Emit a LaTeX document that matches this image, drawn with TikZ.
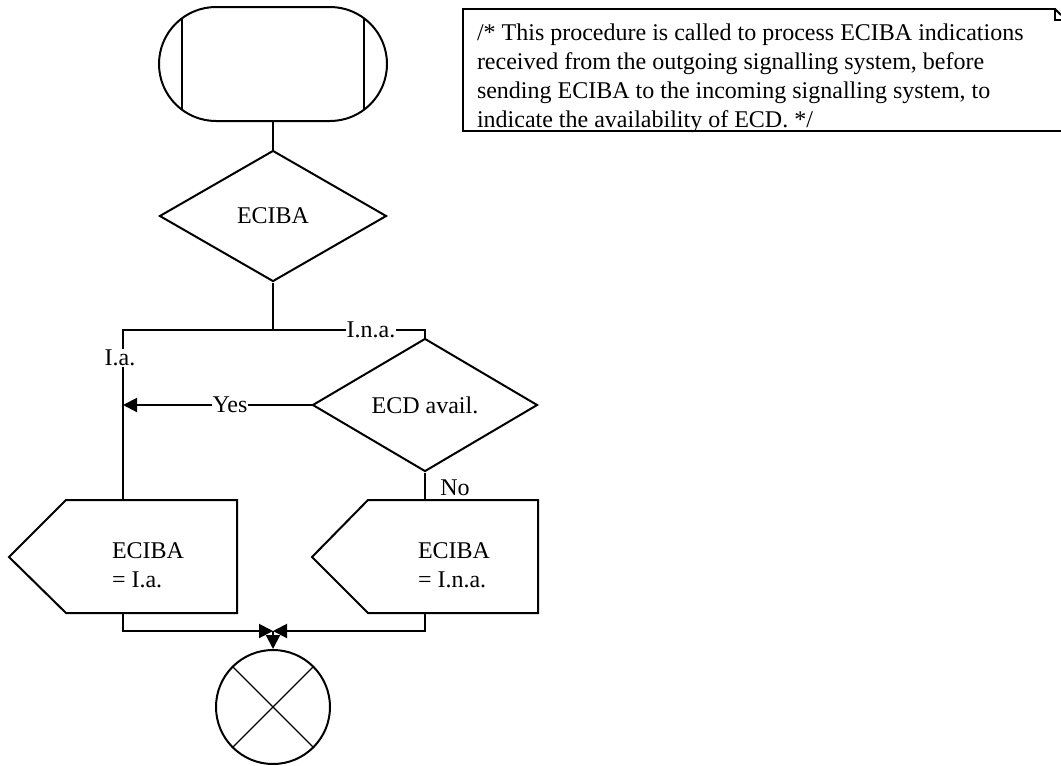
\documentclass[tikz,border=0pt]{standalone}
\usepackage{fontspec}
\setmainfont{Liberation Serif}
\usetikzlibrary{shapes.geometric,arrows.meta,calc}
\begin{document}
\begin{tikzpicture}[x=1pt,y=-1pt,line width=2pt,
  txt/.style={font=\fontsize{24}{29}\selectfont},
  lbl/.style={txt,fill=white,inner sep=1pt},
  dec/.style={draw,diamond,inner sep=0pt,txt},
  arr/.style={-{Triangle[length=14pt,width=14pt]}},
  bar/.style={line width=2.8pt},
  thin/.style={line width=1.3pt}]
\useasboundingbox (0,0) rectangle (1061,766);
\fill[white] (0,0) rectangle (1061,766);
% start symbol
\node[draw,rounded corners=57pt,minimum width=228pt,minimum height=114pt,inner sep=0pt] (start) at (273,64) {};
\draw[bar] ($(start.center)+(-91,-46)$) -- ($(start.center)+(-91,46)$);
\draw[bar] ($(start.center)+(91,-46)$) -- ($(start.center)+(91,46)$);
% decisions
\node[dec,minimum width=227pt,minimum height=131pt] (d1) at (273,216) {ECIBA};
\node[dec,minimum width=225pt,minimum height=133pt] (d2) at (425,405) {ECD avail.};
% outputs
\coordinate (s1top) at (123,500);
\coordinate (s1bot) at (123,613);
\coordinate (s2top) at (425,500);
\coordinate (s2bot) at (425,613);
\draw (9,557) -- (66,500) -- (237,500) -- (237,613) -- (66,613) -- cycle;
\draw (312,557) -- (368,500) -- (538,500) -- (538,613) -- (368,613) -- cycle;
\node[txt,align=left,anchor=west,inner sep=0pt] (o1) at (111,565) {ECIBA\\= I.a.};
\node[txt,align=left,anchor=west,inner sep=0pt] (o2) at (417,565) {ECIBA\\= I.n.a.};
% end
\node[draw,circle,minimum size=114pt,inner sep=0pt] (end) at (273,707) {};
\draw[thin] (end.north west) -- (end.south east);
\draw[thin] (end.north east) -- (end.south west);
% connectors
\coordinate (j1) at (273,330);
\coordinate (jl) at (123,330);
\coordinate (jr) at (425,330);
\coordinate (yesEnd) at (123,405);
\coordinate (merge) at (273,631);
\draw (start.south) -- (d1.north);
\draw (d1.south) -- (j1);
\draw (s1top) -- (jl) -- (jr) -- (d2.north);
\draw[arr] (d2.west) -- (yesEnd);
\draw (d2.south) -- (s2top);
\draw[arr] (s1bot) |- (merge);
\draw[arr] (s2bot) |- (merge);
\draw[arr] (merge) -- (end.north);
% labels
\node[lbl] (lina) at (371,330) {I.n.a.};
\node[lbl] (lia) at (120,358) {I.a.};
\node[lbl] (lyes) at (230,405) {Yes};
\node[txt,inner sep=0pt] (lno) at (455,488) {No};
% comment
\draw (1061,131) -- (463,131) -- (463,9) -- (1055,9) -- (1055,20) -- (1061,20);
\draw (1055,9) -- (1061,15);
\node[txt,align=left,anchor=base west,inner sep=0pt] (cmt) at (476,127)
  {/* This procedure is called to process ECIBA indications\\
   received from the outgoing signalling system, before\\
   sending ECIBA to the incoming signalling system, to\\
   indicate the availability of ECD. */};
\end{tikzpicture}
\end{document}
